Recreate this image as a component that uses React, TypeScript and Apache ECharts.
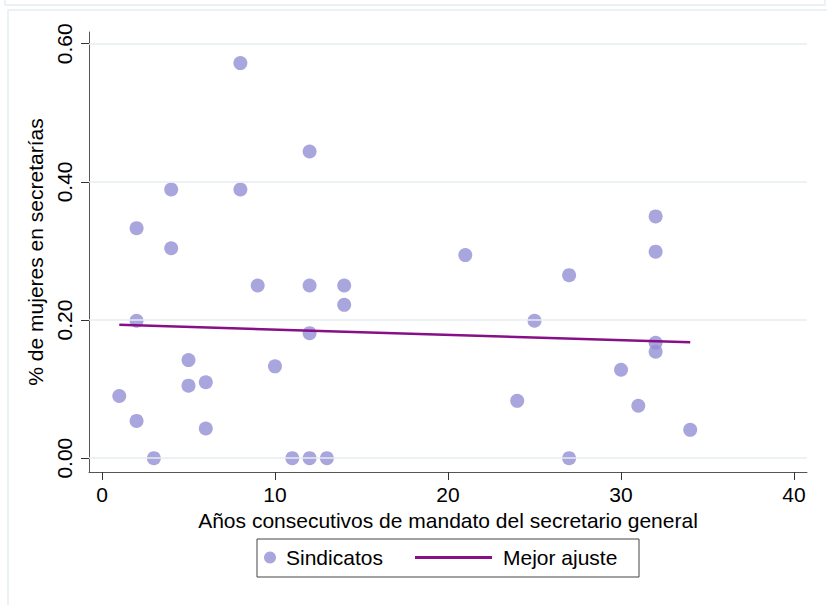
import React, { useEffect, useRef } from "react";
import * as echarts from "echarts";

const years = [1, 2, 2, 2, 3, 4, 4, 5, 5, 6, 6, 8, 8, 9, 10, 11, 12, 12, 12, 12, 13, 14, 14, 21, 24, 25, 27, 27, 30, 31, 32, 32, 32, 32, 34];
const shares = [0.09, 0.054, 0.199, 0.333, 0, 0.389, 0.304, 0.142, 0.105, 0.11, 0.043, 0.572, 0.389, 0.25, 0.133, 0, 0.444, 0.25, 0.181, 0, 0, 0.25, 0.222, 0.294, 0.083, 0.199, 0.265, 0, 0.128, 0.076, 0.35, 0.299, 0.167, 0.154, 0.041];
const fitX = [1, 34];
const fitY = [0.193, 0.168];
const xTicks = [0, 10, 20, 30, 40];
const yTicks = [0, 0.2, 0.4, 0.6];

const FONT = "'Liberation Sans', Arial, sans-serif";
const DOT = "#948FD4";
const FIT = "#870F87";
const AXIS = "#555555";
const GRIDC = "#E6EEF1";

export default function App() {
  const ref = useRef<HTMLDivElement>(null);
  useEffect(() => {
    document.body.style.margin = "0";
    const chart = echarts.init(ref.current!, null, { renderer: "svg" });
    const scatterData = years.map((x, i) => [x, shares[i]]);
    const fitData = fitX.map((x, i) => [x, fitY[i]]);
    chart.setOption({
      animation: false,
      backgroundColor: "#ffffff",
      textStyle: { fontFamily: FONT, color: "#000" },
      grid: { left: 89, right: 20, top: 32, bottom: 133, containLabel: false },
      xAxis: {
        type: "value",
        min: -0.75,
        max: 40.75,
        name: "Años consecutivos de mandato del secretario general",
        nameLocation: "middle",
        nameGap: 32,
        nameTextStyle: { fontSize: 21, color: "#000", fontFamily: FONT },
        axisLine: { show: true, onZero: false, lineStyle: { color: AXIS, width: 1 } },
        axisTick: { show: true, length: 8, customValues: xTicks, lineStyle: { color: "#333" } },
        axisLabel: { customValues: xTicks, fontSize: 21, color: "#000", margin: 12, fontFamily: FONT },
        splitLine: { show: false },
      },
      yAxis: {
        type: "value",
        min: -0.02,
        max: 0.617,
        name: "% de mujeres en secretarías",
        nameLocation: "middle",
        nameGap: 34,
        nameTextStyle: { fontSize: 21, color: "#000", fontFamily: FONT },
        axisLine: { show: true, onZero: false, lineStyle: { color: AXIS, width: 1 } },
        axisTick: { show: true, length: 8, customValues: yTicks, lineStyle: { color: "#333" } },
        axisLabel: {
          customValues: yTicks,
          rotate: 90,
          fontSize: 21,
          color: "#000",
          margin: 14,
          fontFamily: FONT,
          formatter: (v: number) => v.toFixed(2),
        },
        splitLine: { show: false },
      },
      legend: [
        {
          data: ["Sindicatos"],
          left: 264,
          top: 547,
          padding: 0,
          itemWidth: 12,
          itemHeight: 12,
          textStyle: { fontSize: 21, color: "#000", fontFamily: FONT, padding: [0, 0, 0, 5] },
        },
        {
          data: [{ name: "Mejor ajuste", icon: "rect" }],
          left: 415,
          top: 547,
          padding: 0,
          itemWidth: 77,
          itemHeight: 3,
          textStyle: { fontSize: 21, color: "#000", fontFamily: FONT, padding: [0, 0, 0, 6] },
        },
      ],
      graphic: [
        {
          type: "rect",
          silent: true,
          shape: { x: 5, y: -10, width: 820, height: 15 },
          style: { fill: "none", stroke: GRIDC, lineWidth: 1.5 },
        },
        {
          type: "rect",
          silent: true,
          shape: { x: 8, y: 10, width: 830, height: 610 },
          style: { fill: "none", stroke: GRIDC, lineWidth: 1.5 },
        },
        {
          type: "rect",
          silent: true,
          shape: { x: 257, y: 539, width: 382, height: 38 },
          style: { fill: "none", stroke: "#444", lineWidth: 1 },
        },
      ],
      series: [
        {
          type: "line",
          name: "grid",
          data: [],
          z: 1,
          silent: true,
          markLine: {
            silent: true,
            symbol: "none",
            label: { show: false },
            lineStyle: { color: GRIDC, width: 1.5, type: "solid" },
            data: yTicks.map((v) => ({ yAxis: v })),
          },
        },
        {
          type: "scatter",
          name: "Sindicatos",
          data: scatterData,
          symbol: "circle",
          symbolSize: 14,
          itemStyle: { color: DOT },
          z: 3,
        },
        {
          type: "line",
          name: "Mejor ajuste",
          data: fitData,
          symbol: "none",
          showSymbol: false,
          lineStyle: { color: FIT, width: 2.5 },
          itemStyle: { color: FIT },
          z: 4,
        },
      ],
    });
    return () => chart.dispose();
  }, []);
  return <div ref={ref} style={{ width: 827, height: 605 }} />;
}
